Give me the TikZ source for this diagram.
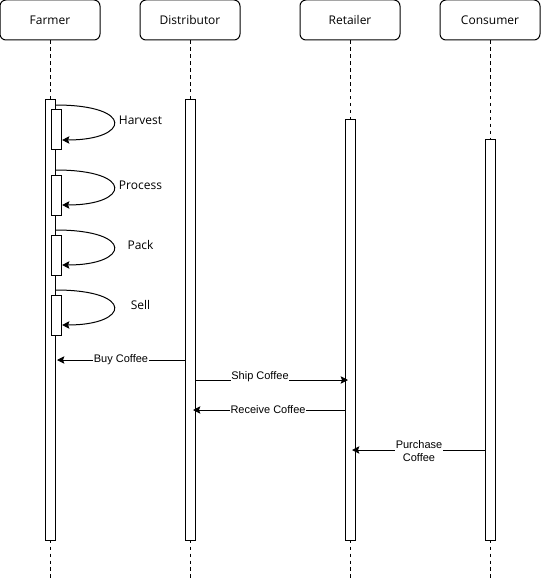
\documentclass[tikz,border=0pt]{standalone}
\usepackage{fontspec}
\setmainfont{Liberation Sans}
\newfontfamily\hdrfont{Open Sans}
\usetikzlibrary{arrows.meta}
\begin{document}
\begin{tikzpicture}[x=0.75pt,y=-0.75pt,
  line width=0.75pt,
  head/.style={draw, rounded corners=4.5pt, minimum width=75pt, minimum height=30pt, inner sep=0pt,
    font=\hdrfont\fontsize{9}{11}\selectfont},
  bar/.style={draw, fill=white, minimum width=7.5pt, inner sep=0pt},
  life/.style={dash pattern=on 2.6pt off 2.6pt},
  msg/.style={-{Stealth[length=5.5pt,width=5.5pt,inset=1pt]}},
  lbl/.style={fill=white, inner sep=0.5pt, font=\fontsize{8.25}{10}\selectfont, align=center},
  act/.style={font=\hdrfont\fontsize{9}{11}\selectfont},
  self/.style={msg}
]
\useasboundingbox (0,0) rectangle (541,581);
% headers
\node[head] (farmer) at (50,20) {Farmer};
\node[head] (dist) at (190,20) {Distributor};
\node[head] (ret) at (350,20) {Retailer};
\node[head] (cons) at (490,20) {Consumer};
% lifeline ends
\coordinate (fend) at (50,580);
\coordinate (dend) at (190,580);
\coordinate (rend) at (350,580);
\coordinate (cend) at (490,580);
\draw[life] (farmer) -- (fend);
\draw[life] (dist) -- (dend);
\draw[life] (ret) -- (rend);
\draw[life] (cons) -- (cend);
% activation bars
\node[bar, minimum height=330pt] (fb) at (50,320) {};
\node[bar, minimum height=330pt] (db) at (190,320) {};
\node[bar, minimum height=315pt] (rb) at (350,330) {};
\node[bar, minimum height=300pt] (cb) at (490,340) {};
% nested bars
\node[bar, minimum height=30pt] (hb) at (56,130) {};
\node[bar, minimum height=30pt] (pb) at (56,195) {};
\node[bar, minimum height=30pt] (kb) at (56,255) {};
\node[bar, minimum height=30pt] (sb) at (56,315) {};
% self loops
\draw[self] (fb.east |- 0,105) .. controls (135,105) and (130,140) .. ([xshift=0.4pt]hb.east |- 0,140);
\draw[self] (fb.east |- 0,170) .. controls (135,170) and (130,205) .. ([xshift=0.4pt]pb.east |- 0,205);
\draw[self] (fb.east |- 0,230) .. controls (135,230) and (130,265) .. ([xshift=0.4pt]kb.east |- 0,265);
\draw[self] (fb.east |- 0,290) .. controls (135,290) and (130,325) .. ([xshift=0.4pt]sb.east |- 0,325);
\node[act] (lh) at (140.5,120) {Harvest};
\node[act] (lp) at (140.5,185) {Process};
\node[act] (lk) at (140.5,245) {Pack};
\node[act] (ls) at (140.5,305) {Sell};
% messages
\draw[msg] (db.west |- 0,360) -- ([xshift=5.25pt]fb.center |- 0,360);
\node[lbl] (m1) at (121,360) {Buy Coffee};
\draw[msg] (db.east |- 0,380) -- ([xshift=-1.5pt]rb.center |- 0,380);
\node[lbl] (m2) at (260,376.5) {Ship Coffee};
\draw[msg] (rb.west |- 0,410) -- ([xshift=2.25pt]db.center |- 0,410);
\node[lbl] (m3) at (268,410) {Receive Coffee};
\draw[msg] (cb.west |- 0,450) -- ([xshift=1.5pt]rb.center |- 0,450);
\node[lbl] (m4) at (419,451) {Purchase\\Coffee};
\end{tikzpicture}
\end{document}
